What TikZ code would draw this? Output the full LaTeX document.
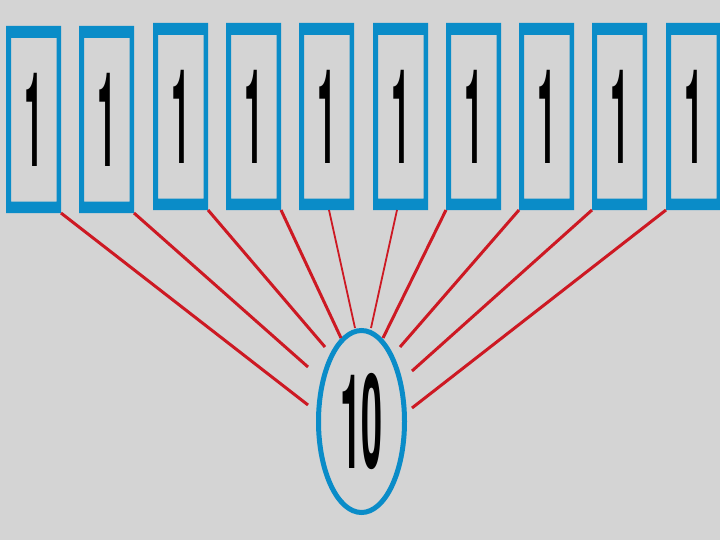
\documentclass[tikz,border=0pt]{standalone}
\usepackage{fontspec}
\setmainfont{TeX Gyre Heros}
\usetikzlibrary{shapes.geometric}
\definecolor{bg}{RGB}{212,212,212}
\definecolor{frameblue}{RGB}{10,140,200}
\definecolor{linkred}{RGB}{205,25,35}
\begin{document}
\begin{tikzpicture}[x=1bp,y=-1bp,
  digitbox/.style={inner sep=0pt,outer sep=0pt,minimum width=55bp,minimum height=187bp,anchor=north west},
  link/.style={draw=linkred,line width=3bp},
  thinlink/.style={draw=linkred,line width=1.8bp}]
\fill[bg] (0,0) rectangle (720,540);
\useasboundingbox (0,0) rectangle (720,540);
\foreach \i/\x/\y in {1/6/26, 2/79/26, 3/153/23, 4/226/23, 5/299/23, 6/373/23, 7/446/23, 8/519/23, 9/592/23, 10/666/23}{
  \node[digitbox] (b\i) at (\x,\y) {\scalebox{0.85}[3.3]{\fontsize{40}{40}\selectfont\bfseries 1}};
  \fill[frameblue,even odd rule] (b\i.north west) rectangle (b\i.south east)
     ([shift={(5,12)}]b\i.north west) rectangle ([shift={(-4.5,-11.5)}]b\i.south east);
}
\node[draw=frameblue,line width=5bp,ellipse,minimum width=86bp,minimum height=182bp,inner sep=0pt] (e) at (361.5,421.5)
  {\scalebox{0.95}[3.3]{\fontsize{40}{40}\selectfont\bfseries 10}};
\coordinate (t1) at (308,405);
\coordinate (t2) at (308,367);
\coordinate (t3) at (325,347);
\coordinate (t4) at (341,338);
\coordinate (t5) at (355,328);
\coordinate (t6) at (371,328);
\coordinate (t7) at (383,338);
\coordinate (t8) at (400,347);
\coordinate (t9) at (412,371);
\coordinate (t10) at (412,408);
\foreach \i in {1,2,3,4}{\draw[link] (b\i.south east) -- (t\i);}
\draw[thinlink] ([xshift=2.5bp]b5.south) -- (t5);
\draw[thinlink] ([xshift=-3.5bp]b6.south) -- (t6);
\foreach \i in {7,8,9,10}{\draw[link] (b\i.south west) -- (t\i);}
\end{tikzpicture}
\end{document}
